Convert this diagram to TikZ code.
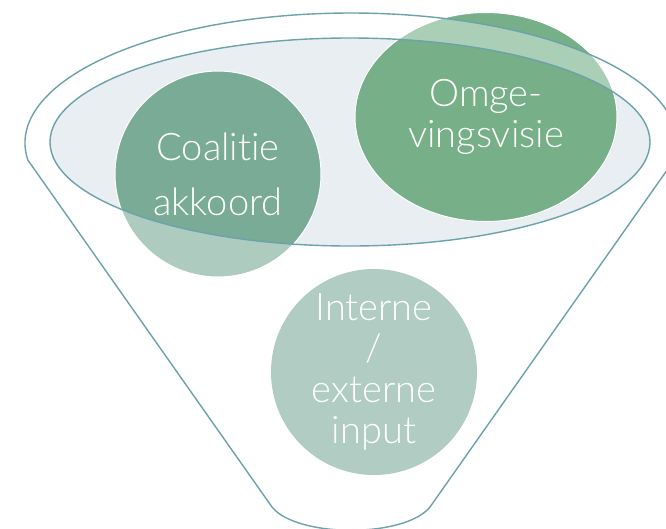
\documentclass[tikz,border=0pt]{standalone}
\usepackage{fontspec}
\setmainfont{Lato Light}[Ligatures={NoCommon}]
\usetikzlibrary{positioning,shapes.geometric}
\definecolor{fnlteal}{RGB}{108, 162, 172}
\definecolor{fnlbowl}{RGB}{232, 238, 241}
\definecolor{fnlcoalitie}{RGB}{122, 171, 150}
\definecolor{fnlomge}{RGB}{118, 175, 136}
\definecolor{fnlinput}{RGB}{126, 172, 157}

\begin{document}
\begin{tikzpicture}[x=1pt, y=-1pt,
		% Node styles
		bubble/.style={ellipse, inner sep=0pt, text=white, align=center,
				font=\fontsize{38}{41}\selectfont},
		rim/.style={draw=fnlteal, line width=1.4pt},
		bubbleedge/.style={draw=white, line width=1pt},
		haze/.style={fill=white, fill opacity=0.39, even odd rule},
	]

	\pgfdeclarelayer{background}
	\pgfsetlayers{background,main}

	\useasboundingbox (0,0) rectangle (666,528);

	% Text of the three circles
	\node[bubble, minimum width=262pt, minimum height=209pt] (omge) at (486,117) {Omge-\\vingsvisie};
	\node[bubble, minimum size=206pt] (coalitie) at (218,174) {Coalitie\\[14pt]akkoord};
	\node[bubble, minimum size=206pt] (input) at (374,372) {Interne\\/\\externe\\input};

	\begin{pgfonlayer}{background}
		% Bowl of the funnel
		\fill[fnlbowl] (350,142) ellipse[x radius=300, y radius=104];

		% Circles
		\fill[fnlomge] (omge.center) ellipse[x radius=131, y radius=104.5];
		\fill[fnlcoalitie] (coalitie.center) circle[radius=103];
		\fill[fnlinput] (input.center) circle[radius=103];
		\draw[bubbleedge] (omge.center) ellipse[x radius=131, y radius=104.5];
		\draw[bubbleedge] (coalitie.center) circle[radius=103];

		% Funnel body over the circles, bowl left open
		\fill[haze] (351,143) ++(172.5:326 and 130)
			arc[start angle=172.5, end angle=367.5, x radius=326, y radius=130]
			-- (430,507) .. controls (405,538) and (297,538) .. (272,507) -- cycle
			(350,142) ellipse[x radius=300, y radius=104];

		% Outlines
		\draw[rim] (350,142) ellipse[x radius=300, y radius=104];
		\draw[rim] (351,143) ++(172.5:326 and 130)
			arc[start angle=172.5, end angle=367.5, x radius=326, y radius=130]
			-- (430,507) .. controls (405,538) and (297,538) .. (272,507) -- cycle;
	\end{pgfonlayer}

\end{tikzpicture}
\end{document}
